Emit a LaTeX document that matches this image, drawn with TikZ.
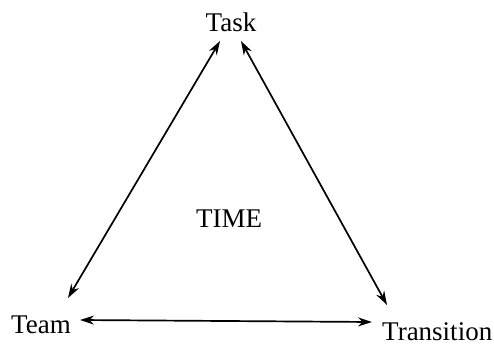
\documentclass[tikz,border=0pt]{standalone}
\usepackage{fontspec}
\setmainfont{Liberation Serif}
\usetikzlibrary{arrows.meta}
\begin{document}
\begin{tikzpicture}[x=1pt,y=-1pt,
  lbl/.style={inner sep=0pt,font=\fontsize{27}{30}\selectfont},
  arr/.style={line width=1.7pt,{Stealth[length=14pt,width=9pt]}-{Stealth[length=14pt,width=9pt]}}]
\useasboundingbox[fill=white] (0,0) rectangle (494,345);
\node[lbl,anchor=base] (task) at (231,32) {Task};
\node[lbl,anchor=base] (team) at (41,333) {Team};
\node[lbl,anchor=base west] (trans) at (382,340) {Transition};
\node[lbl,anchor=base] (time) at (229,227) {TIME};
\draw[arr] ([xshift=-11pt,yshift=-9pt]task.base) -- ([xshift=27pt,yshift=35pt]team.base);
\draw[arr] ([xshift=10pt,yshift=-9pt]task.base) -- ([xshift=5pt,yshift=35pt]trans.base west);
\draw[arr] ([xshift=39pt,yshift=13pt]team.base) -- ([xshift=-10pt,yshift=18pt]trans.base west);
\end{tikzpicture}
\end{document}
